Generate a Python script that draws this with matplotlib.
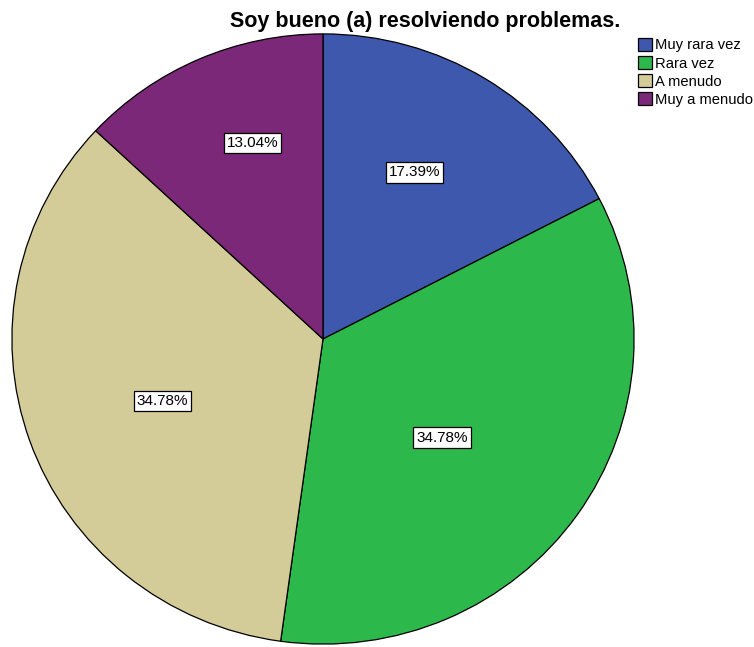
import numpy as np
import matplotlib
matplotlib.use("Agg")
import matplotlib.pyplot as plt

plt.rcParams['font.family'] = ['Liberation Sans', 'DejaVu Sans']

title = "Soy bueno (a) resolviendo problemas."
categories = ["Muy rara vez", "Rara vez", "A menudo", "Muy a menudo"]
percentages = [17.39, 34.78, 34.78, 13.04]
colors = ["#3D58AC", "#2DB84B", "#D4CC98", "#7A2877"]

# label placement styling (radial fraction, angular shift in degrees)
label_radius = [0.62, 0.50, 0.555, 0.68]
label_shift = [3, -5, 2, -4]

fig = plt.figure(figsize=(7.54, 6.47), dpi=100)
W, H = 754, 647
cx, cy, rx, ry = 323, 339, 312, 306
ax = fig.add_axes([(cx - rx) / W, (H - cy - ry) / H, 2 * rx / W, 2 * ry / H])

wedges, _ = ax.pie(percentages, colors=colors, startangle=90, counterclock=False,
                   radius=1.0, wedgeprops=dict(edgecolor='black', linewidth=0.9))
ax.set_xlim(-1.003, 1.003)
ax.set_ylim(-1.003, 1.003)
ax.set_aspect('auto')
ax.axis('off')

for w, p, r, s in zip(wedges, percentages, label_radius, label_shift):
    ang = np.deg2rad((w.theta1 + w.theta2) / 2 + s)
    ax.text(r * np.cos(ang), r * np.sin(ang), f"{p:.2f}%", ha='center', va='center',
            fontsize=11, color='black',
            bbox=dict(boxstyle='square,pad=0.2', facecolor='white', edgecolor='black', linewidth=0.9))

fig.text(425 / W, 1 - 27 / H, title, ha='center', va='baseline', fontsize=15.5, fontweight='bold')

leg = fig.legend(wedges, categories, loc='upper left', bbox_to_anchor=(638 / W, 1 - 38 / H),
                 frameon=False, fontsize=10.6, handlelength=0.95, handleheight=0.95,
                 handletextpad=0.2, labelspacing=0.25, borderaxespad=0, borderpad=0)

fig.savefig("out.png", dpi=100, facecolor='white')
